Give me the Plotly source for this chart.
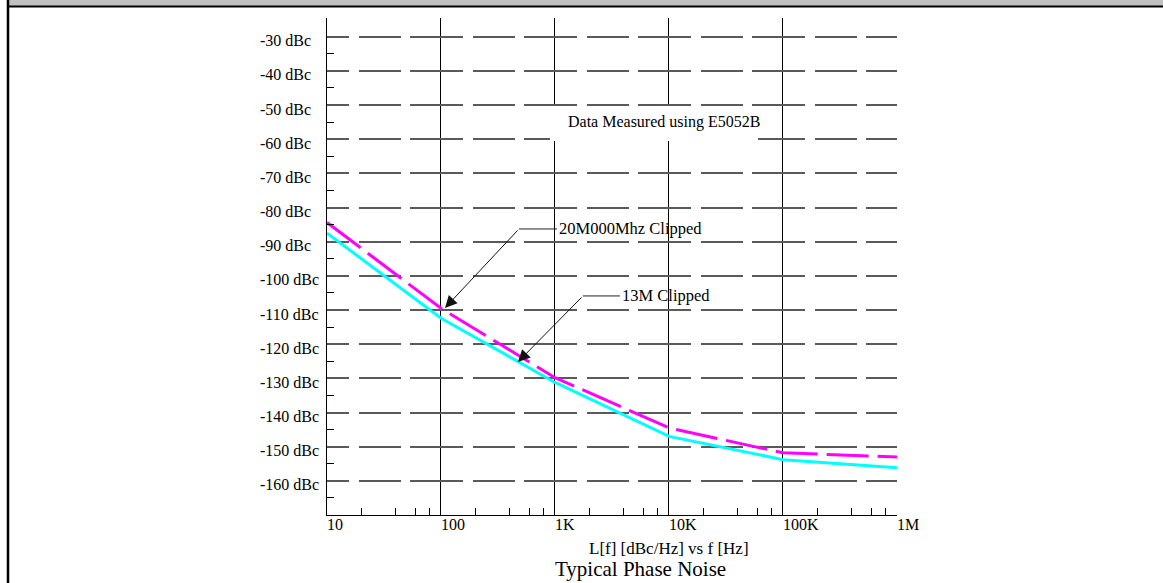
import plotly.graph_objects as go
import math

# ---------------- data ----------------
freq_hz = [10, 100, 1000, 10000, 100000, 1000000]
noise_20m = [-84.4, -109.5, -129.8, -144.5, -151.8, -153.0]   # magenta dashed
noise_13m = [-87.5, -112.4, -131.2, -147.0, -153.8, -156.2]   # cyan solid

x_tick_vals = [10, 100, 1000, 10000, 100000, 1000000]
x_tick_text = ["10", "100", "1K", "10K", "100K", "1M"]
y_tick_vals = [-30, -40, -50, -60, -70, -80, -90, -100, -110, -120, -130, -140, -150, -160]
y_tick_text = [f"{v} dBc" for v in y_tick_vals]

# ---------------- geometry ----------------
W, H = 1163, 583
L, R, T, B = 327, 897, 18, 515          # plot area in page pixels
PW, PH = R - L, B - T

def px(xp):
    return (xp - L) / PW

def py(yp):
    return (B - yp) / PH

FONT = "Liberation Serif"

fig = go.Figure()
fig.add_trace(go.Scatter(x=freq_hz, y=noise_13m, mode="lines",
                         line=dict(color="#00FFFF", width=3), name="13M Clipped"))
fig.add_trace(go.Scatter(x=freq_hz, y=noise_20m, mode="lines",
                         line=dict(color="#FF00FF", width=3, dash="42px,9px"),
                         name="20M000Mhz Clipped"))

minor_x = [m * 10 ** k for k in range(1, 6) for m in (2, 4, 6, 8)]
minor_y = [v - 5 for v in y_tick_vals]

fig.update_layout(
    width=W, height=H,
    margin=dict(l=L, r=W - R, t=T, b=H - B, pad=0),
    paper_bgcolor="white", plot_bgcolor="white",
    showlegend=False,
    font=dict(family=FONT, size=16, color="black"),
    xaxis=dict(type="log", range=[1, 6.0004], showline=True, linecolor="black", linewidth=1,
               tickvals=x_tick_vals, showticklabels=False, ticks="",
               showgrid=True, gridcolor="black", gridwidth=1, zeroline=False,
               minor=dict(tickvals=minor_x, ticks="inside", ticklen=7,
                          tickcolor="black", tickwidth=1, showgrid=False)),
    yaxis=dict(range=[-170, -24.53], showline=True, linecolor="black", linewidth=1,
               tickvals=y_tick_vals, showticklabels=False, ticks="",
               showgrid=True, gridcolor="#5a5a5a", gridwidth=1.5,
               griddash="22px,10px,42px,9px,31px,0px", zeroline=False,
               minor=dict(tickvals=minor_y, ticks="inside", ticklen=7,
                          tickcolor="black", tickwidth=1, showgrid=False)),
)

shapes = []
# white box behind the "Data Measured" note
shapes.append(dict(type="rect", xref="paper", yref="paper", layer="above",
                   x0=px(550), x1=px(758), y0=py(141), y1=py(106),
                   fillcolor="white", line=dict(width=0)))
# header bar and frame
shapes.append(dict(type="rect", xref="paper", yref="paper",
                   x0=px(9), x1=px(W), y0=py(6), y1=py(0),
                   fillcolor="#c0c0c0", line=dict(width=0)))
shapes.append(dict(type="line", xref="paper", yref="paper",
                   x0=px(8), x1=px(W), y0=py(6.5), y1=py(6.5),
                   line=dict(color="black", width=2)))
shapes.append(dict(type="line", xref="paper", yref="paper",
                   x0=px(8), x1=px(8), y0=py(0), y1=py(H),
                   line=dict(color="black", width=2.5)))

annotations = []
# y tick labels (left aligned)
for v, t in zip(y_tick_vals, y_tick_text):
    annotations.append(dict(x=0, xref="paper", y=v, yref="y", text=t, showarrow=False,
                            xanchor="left", yanchor="middle", xshift=-69, yshift=-4,
                            font=dict(family=FONT, size=16)))
# x tick labels (left aligned at tick)
for v, t in zip(x_tick_vals, x_tick_text):
    annotations.append(dict(x=math.log10(v), xref="x", y=0, yref="paper", text=t,
                            showarrow=False, xanchor="left", yanchor="middle",
                            xshift=-2, yshift=-9, font=dict(family=FONT, size=16)))

annotations.append(dict(x=math.log10(10000), xref="x", y=py(548), yref="paper",
                        text="L[f] [dBc/Hz] vs f [Hz]", showarrow=False,
                        xanchor="center", yanchor="middle", font=dict(family=FONT, size=17)))
annotations.append(dict(x=px(640), xref="paper", y=py(569), yref="paper",
                        text="Typical Phase Noise", showarrow=False,
                        xanchor="center", yanchor="middle", font=dict(family=FONT, size=21)))
annotations.append(dict(x=px(566), xref="paper", y=py(122), yref="paper",
                        text="Data Measured using E5052B", showarrow=False,
                        xanchor="left", yanchor="middle", font=dict(family=FONT, size=16)))

# callouts: tip (log10 f, dB) -> elbow -> label
def lx(xp):
    return 1 + (xp - L) / 114.0

def ly(yp):
    return -30 - (yp - 36.7) / 3.417

callouts = [
    ("20M000Mhz Clipped", (445, 308), (519, 229), (557, 229)),
    ("13M Clipped", (518, 362), (583, 296), (620, 296)),
]
for text, tip, elbow, lab in callouts:
    annotations.append(dict(x=lx(tip[0]), y=ly(tip[1]), xref="x", yref="y",
                            ax=lx(elbow[0]), ay=ly(elbow[1]), axref="x", ayref="y",
                            text="", showarrow=True, arrowhead=2, arrowsize=2.4,
                            arrowwidth=1, arrowcolor="#111"))
    shapes.append(dict(type="line", xref="x", yref="y",
                       x0=10 ** lx(elbow[0]), x1=10 ** lx(lab[0]),
                       y0=ly(elbow[1]), y1=ly(lab[1]),
                       layer="above", line=dict(color="#222", width=1)))
    annotations.append(dict(x=lx(lab[0]), y=ly(lab[1]), xref="x", yref="y", text=text,
                            showarrow=False, xanchor="left", yanchor="middle",
                            font=dict(family=FONT, size=16.5)))

fig.update_layout(shapes=shapes, annotations=annotations)
fig.write_html("out.html", config={"displayModeBar": False},
               post_script="document.body.style.margin='0';document.body.style.padding='0';")
